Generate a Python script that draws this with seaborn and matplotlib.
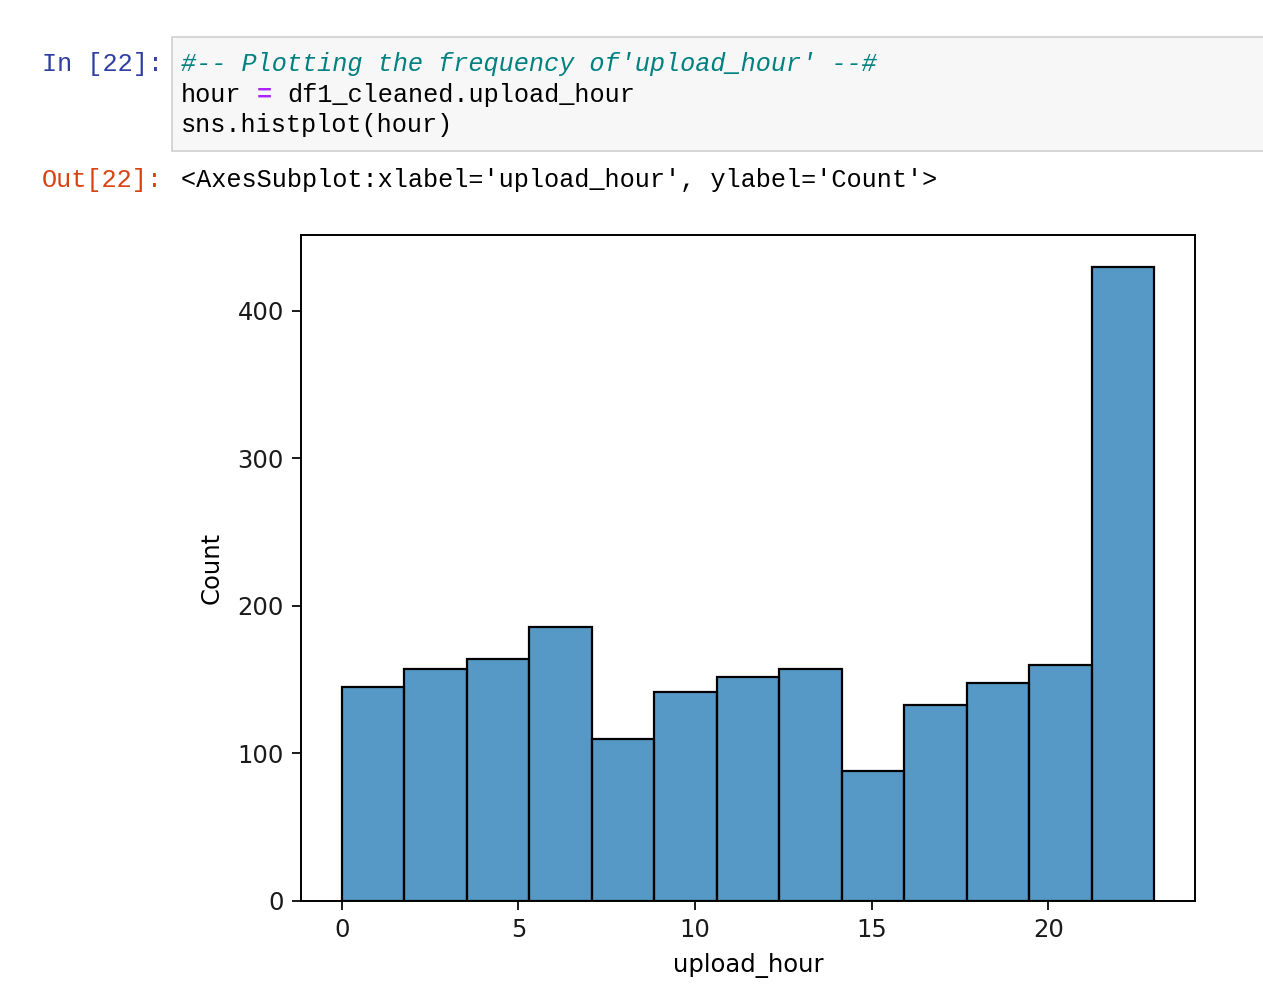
import numpy as np
import matplotlib.pyplot as plt
from matplotlib.patches import Rectangle
from matplotlib.transforms import offset_copy
import seaborn as sns

# bin counts (13 bins over 0..23)
bin_counts = [145, 157, 164, 186, 110, 142, 152, 157, 88, 133, 148, 160, 430]
hour_min, hour_max = 0, 23
n_bins = len(bin_counts)

edges = np.linspace(hour_min, hour_max, n_bins + 1)
centers = (edges[:-1] + edges[1:]) / 2

fig = plt.figure(figsize=(12.63, 10), dpi=100)

# notebook cell around the plot
mono = 'Liberation Mono'
fs_code = 18.2
cw = 0.6 * fs_code  # char advance in points for the mono font
fig.patches.append(Rectangle((172 / 1263, 1 - 151 / 1000), 1.0, 114 / 1000,
                             transform=fig.transFigure, facecolor='#f7f7f7',
                             edgecolor='#cfcfcf', lw=1.2, zorder=0))
fig.text(42 / 1263, 1 - 64 / 1000, 'In [22]:', family=mono, fontsize=fs_code,
         color='#303f9f', va='center')
fig.text(181 / 1263, 1 - 64 / 1000, "#-- Plotting the frequency of'upload_hour' --#",
         family=mono, fontsize=fs_code, color='#008080', style='italic', va='center')

# line 2 in three pieces so the '=' gets its own colour
x0, y2 = 181 / 1263, 1 - 95 / 1000
fig.text(x0, y2, 'hour', family=mono, fontsize=fs_code, color='black', va='center')
fig.text(x0, y2, '=', family=mono, fontsize=fs_code, color='#aa22ff', weight='bold',
         va='center', transform=offset_copy(fig.transFigure, fig=fig, x=5 * cw, units='points'))
fig.text(x0, y2, 'df1_cleaned.upload_hour', family=mono, fontsize=fs_code, color='black',
         va='center', transform=offset_copy(fig.transFigure, fig=fig, x=7 * cw, units='points'))

fig.text(181 / 1263, 1 - 125 / 1000, 'sns.histplot(hour)',
         family=mono, fontsize=fs_code, color='black', va='center')
fig.text(42 / 1263, 1 - 180 / 1000, 'Out[22]:', family=mono, fontsize=fs_code,
         color='#d84315', va='center')
fig.text(181 / 1263, 1 - 180 / 1000,
         "<AxesSubplot:xlabel='upload_hour', ylabel='Count'>",
         family=mono, fontsize=fs_code, color='black', va='center')

ax = fig.add_axes([301 / 1263, 99 / 1000, 894 / 1263, 666 / 1000])
df = {'upload_hour': centers, 'w': bin_counts}
sns.histplot(data=df, x='upload_hour', weights='w', bins=n_bins,
             binrange=(hour_min, hour_max), ax=ax, linewidth=1.6, edgecolor='black')

ax.set_ylabel('Count', fontsize=17.5, labelpad=10)
ax.set_xlabel('upload_hour', fontsize=17.5, labelpad=8)
ax.tick_params(labelsize=17.5, length=6.3, width=1.4, pad=6, colors='#1a1a1a')
ax.set_yticks([0, 100, 200, 300, 400])
ax.set_xticks([0, 5, 10, 15, 20])
for s in ax.spines.values():
    s.set_linewidth(1.4)

plt.savefig('out.png', dpi=100)
